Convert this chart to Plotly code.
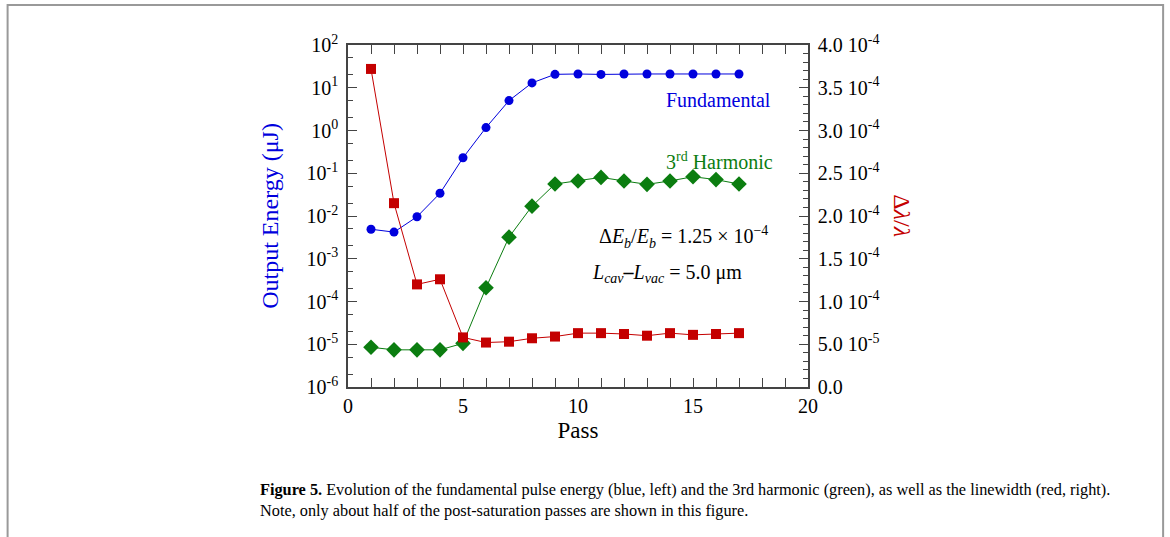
import plotly.graph_objects as go

passes = list(range(1, 18))
fundamental = [4.9e-3, 4.2e-3, 9.6e-3, 0.034, 0.23, 1.17, 5.0, 13, 20.6, 21, 20.5, 21, 21, 21, 21, 21, 21]
harmonic3 = [8.5e-6, 7.4e-6, 7.4e-6, 7.4e-6, 1.05e-5, 2.1e-4, 3.2e-3, 0.017, 0.056, 0.066, 0.080, 0.066, 0.055, 0.066, 0.083, 0.071, 0.056]
linewidth = [3.72e-4, 2.15e-4, 1.20e-4, 1.26e-4, 0.58e-4, 0.52e-4, 0.53e-4, 0.57e-4, 0.59e-4, 0.63e-4, 0.63e-4, 0.62e-4, 0.60e-4, 0.63e-4, 0.61e-4, 0.62e-4, 0.63e-4]

left_tickvals = [1e-6, 1e-5, 1e-4, 1e-3, 1e-2, 1e-1, 1e0, 1e1, 1e2]
left_ticktext = ["10<sup>-6</sup>", "10<sup>-5</sup>", "10<sup>-4</sup>", "10<sup>-3</sup>", "10<sup>-2</sup>",
                 "10<sup>-1</sup>", "10<sup>0</sup>", "10<sup>1</sup>", "10<sup>2</sup>"]
right_tickvals = [0, 0.5e-4, 1.0e-4, 1.5e-4, 2.0e-4, 2.5e-4, 3.0e-4, 3.5e-4, 4.0e-4]
right_ticktext = ["0.0", "5.0 10<sup>-5</sup>", "1.0 10<sup>-4</sup>", "1.5 10<sup>-4</sup>", "2.0 10<sup>-4</sup>",
                  "2.5 10<sup>-4</sup>", "3.0 10<sup>-4</sup>", "3.5 10<sup>-4</sup>", "4.0 10<sup>-4</sup>"]

BLUE = "#0000dd"
GREEN = "#0b7d10"
RED = "#c40000"
AX = "#444444"
FONT = "Liberation Serif"

fig = go.Figure()
fig.add_trace(go.Scatter(x=passes, y=fundamental, mode="lines+markers", yaxis="y",
                         line=dict(color=BLUE, width=1), marker=dict(symbol="circle", size=9, color=BLUE)))
fig.add_trace(go.Scatter(x=passes, y=harmonic3, mode="lines+markers", yaxis="y",
                         line=dict(color=GREEN, width=1), marker=dict(symbol="diamond", size=12, color=GREEN)))
fig.add_trace(go.Scatter(x=passes, y=linewidth, mode="lines+markers", yaxis="y2",
                         line=dict(color=RED, width=1), marker=dict(symbol="square", size=10, color=RED)))

fig.update_layout(
    width=1170, height=537,
    margin=dict(l=348, r=362, t=45, b=150),
    paper_bgcolor="white", plot_bgcolor="white",
    showlegend=False,
    font=dict(family=FONT, color="black", size=20),
    xaxis=dict(range=[0, 20], tickvals=[0, 5, 10, 15, 20], ticks="inside", ticklen=9, tickcolor=AX,
               minor=dict(dtick=1, ticks="inside", ticklen=9, tickcolor=AX),
               showline=True, linecolor=AX, linewidth=1.5, mirror="ticks", showgrid=False, zeroline=False,
               tickfont=dict(size=20), title=dict(text="Pass", font=dict(size=23), standoff=6)),
    yaxis=dict(type="log", range=[-6, 2], tickvals=left_tickvals, ticktext=left_ticktext,
               ticks="inside", ticklen=9, tickcolor=AX,
               minor=dict(ticks="inside", ticklen=5, tickcolor=AX),
               showline=True, linecolor=AX, linewidth=1.5, showgrid=False, zeroline=False,
               tickfont=dict(size=20), ticklabelstandoff=4),
    yaxis2=dict(range=[0, 4e-4], overlaying="y", side="right", tickvals=right_tickvals, ticktext=right_ticktext,
                ticks="inside", ticklen=9, tickcolor=AX,
                minor=dict(dtick=1e-5, ticks="inside", ticklen=5, tickcolor=AX),
                showline=True, linecolor=AX, linewidth=1.5, showgrid=False, zeroline=False,
                tickfont=dict(size=20), ticklabelstandoff=4),
)

fig.add_annotation(xref="paper", yref="paper", x=-0.170, y=0.5, xanchor="center", yanchor="middle",
                   text="Output Energy (μJ)", textangle=-90,
                   showarrow=False, font=dict(size=24, color=BLUE, family=FONT))
fig.add_annotation(xref="paper", yref="paper", x=1.204, y=0.5, xanchor="center", yanchor="middle",
                   text="Δ<i>λ</i>/<i>λ</i>", textangle=90,
                   showarrow=False, font=dict(size=24, color=RED, family=FONT))
fig.add_annotation(x=16.13, y=0.71, xref="x", yref="y", text="Fundamental", showarrow=False,
                   font=dict(size=20, color=BLUE, family=FONT))
fig.add_annotation(x=16.17, y=-0.72, xref="x", yref="y", text="3<sup>rd</sup> Harmonic", showarrow=False,
                   font=dict(size=20, color=GREEN, family=FONT))
fig.add_annotation(x=14.57, y=-2.5, xref="x", yref="y",
                   text="Δ<i>E</i><sub><i>b</i></sub>/<i>E</i><sub><i>b</i></sub> = 1.25 × 10<sup>−4</sup>",
                   showarrow=False, font=dict(size=20, color="black", family=FONT))
fig.add_annotation(x=13.88, y=-3.35, xref="x", yref="y",
                   text="<i>L</i><sub><i>cav</i></sub><b>–</b><i>L</i><sub><i>vac</i></sub> = 5.0 μm",
                   showarrow=False, font=dict(size=20, color="black", family=FONT))

fig.add_annotation(xref="paper", yref="paper", x=-0.195, y=-0.33, xanchor="left", yanchor="middle", align="left",
                   text="<b>Figure 5.</b> Evolution of the fundamental pulse energy (blue, left) and the 3rd harmonic (green), as well as the linewidth (red, right).<br>Note, only about half of the post-saturation passes are shown in this figure.",
                   showarrow=False, font=dict(size=16.3, color="black", family=FONT))

fig.add_shape(type="rect", xref="paper", yref="paper", x0=-0.740, x1=1.772, y0=-0.6, y1=1.117,
              line=dict(color="#999999", width=2))

fig.write_html("out.html")
